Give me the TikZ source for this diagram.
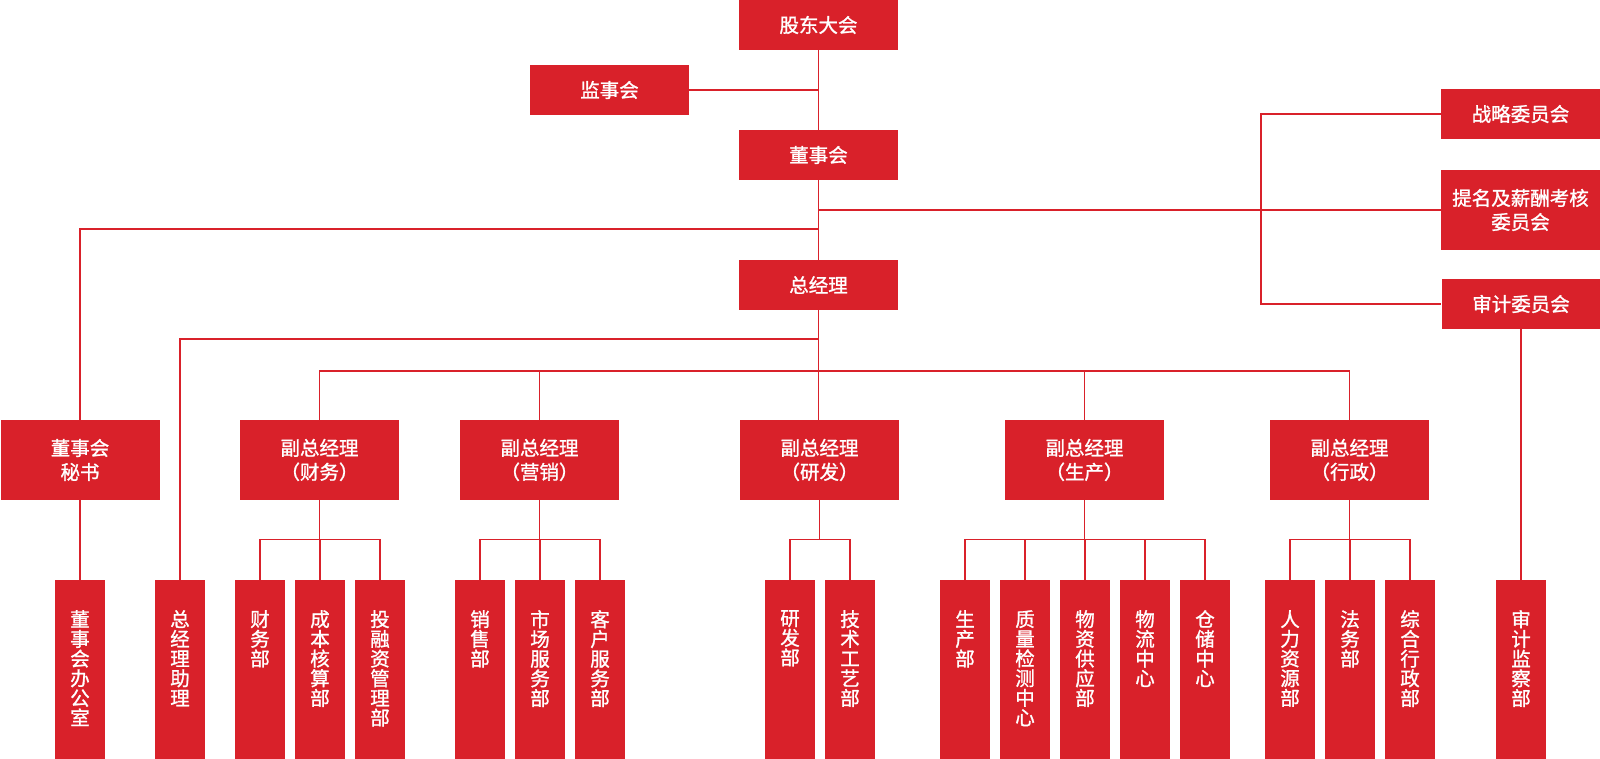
\documentclass[tikz,border=0pt]{standalone}
\usepackage{fontspec}
\setmainfont{Noto Sans CJK SC}[FakeBold=1.2]
\usetikzlibrary{positioning}
\definecolor{zred}{RGB}{217,33,42}

\begin{document}
\begin{tikzpicture}[x=1pt,y=-1pt,
  box/.style={fill=zred,text=white,minimum width=159pt,minimum height=50pt,inner sep=0pt,align=center,font=\fontsize{19.5}{24}\selectfont},
  tall/.style={box,minimum height=80pt},
  dept/.style={fill=zred,minimum width=50pt,minimum height=179pt,inner sep=0pt,anchor=north},
  vtext/.style={text=white,align=center,inner sep=0pt,font=\fontsize{19.5}{19.7}\selectfont},
  link/.style={draw=zred,line width=1.1pt}]

\useasboundingbox (0,0) rectangle (1600,759);

% 上层
\node[box] (gd) at (818.5,25) {股东大会};
\node[box] (js) at (609.5,90) {监事会};
\node[box] (dsh) at (818.5,155) {董事会};
\node[box] (zjl) at (818.5,285) {总经理};

% 专门委员会
\node[box] (zl) at (1520.5,114) {战略委员会};
\node[tall] (tm) at (1520.5,210) {提名及薪酬考核\\委员会};
\node[box] (sjw) at (1521,304) {审计委员会};

% 第二层
\node[tall] (ms) at (80,460) {董事会\\秘书};
\foreach \n/\x/\t in {cw/319.5/财务, yx/539.5/营销, yf/819.5/研发, sc/1084.5/生产, xz/1349.5/行政}
  \node[tall] (\n) at (\x,460) {副总经理\\（\t）};

% 部门
\foreach \n/\x/\t in {
  bgs/80/{董\\事\\会\\办\\公\\室}, zjzl/180/{总\\经\\理\\助\\理},
  cwb/260/{财\\务\\部}, cbh/320/{成\\本\\核\\算\\部}, trz/380/{投\\融\\资\\管\\理\\部},
  xsb/480/{销\\售\\部}, scf/540/{市\\场\\服\\务\\部}, khf/600/{客\\户\\服\\务\\部},
  yfb/790/{研\\发\\部}, jsg/850/{技\\术\\工\\艺\\部},
  scb/965/{生\\产\\部}, zljc/1025/{质\\量\\检\\测\\中\\心}, wzgy/1085/{物\\资\\供\\应\\部},
  wlzx/1145/{物\\流\\中\\心}, cczx/1205/{仓\\储\\中\\心},
  rlzy/1290/{人\\力\\资\\源\\部}, fwb/1350/{法\\务\\部}, zhxz/1410/{综\\合\\行\\政\\部},
  sjjc/1521/{审\\计\\监\\察\\部}}
{
  \node[dept] (\n) at (\x,580) {};
  \node[vtext,below=30pt of \n.north] (\n-t) {\t};
}

% 连线
\draw[link] (gd) -- (dsh);
\draw[link] (dsh) -- (zjl);
\draw[link] (zjl.south) -- (zjl.south |- yf.north);
\draw[link] (js) -- (js -| gd);

\coordinate (kb) at (1261,210);
\draw[link] (gd |- kb) -- (tm);
\draw[link] (zl) -| (kb) |- (sjw);

\coordinate (lb) at (80,229);
\draw[link] (gd |- lb) -| (ms);
\coordinate (ab) at (180,339);
\draw[link] (gd |- ab) -| (zjzl);

\coordinate (vb) at (0,371);
\draw[link] (cw) |- (xz |- vb) -- (xz);
\foreach \n in {yx,sc}
  \draw[link] (\n |- vb) -- (\n);

\draw[link] (ms) -- (bgs);
\draw[link] (sjw) -- (sjjc);

\foreach \p/\kids in {cw/{cwb,cbh,trz}, yx/{xsb,scf,khf}, yf/{yfb,jsg},
  sc/{scb,zljc,wzgy,wlzx,cczx}, xz/{rlzy,fwb,zhxz}}
  \foreach \k in \kids
    \draw[link] (\p.south) -- ++(0,39) -| (\k.north);

\end{tikzpicture}
\end{document}
